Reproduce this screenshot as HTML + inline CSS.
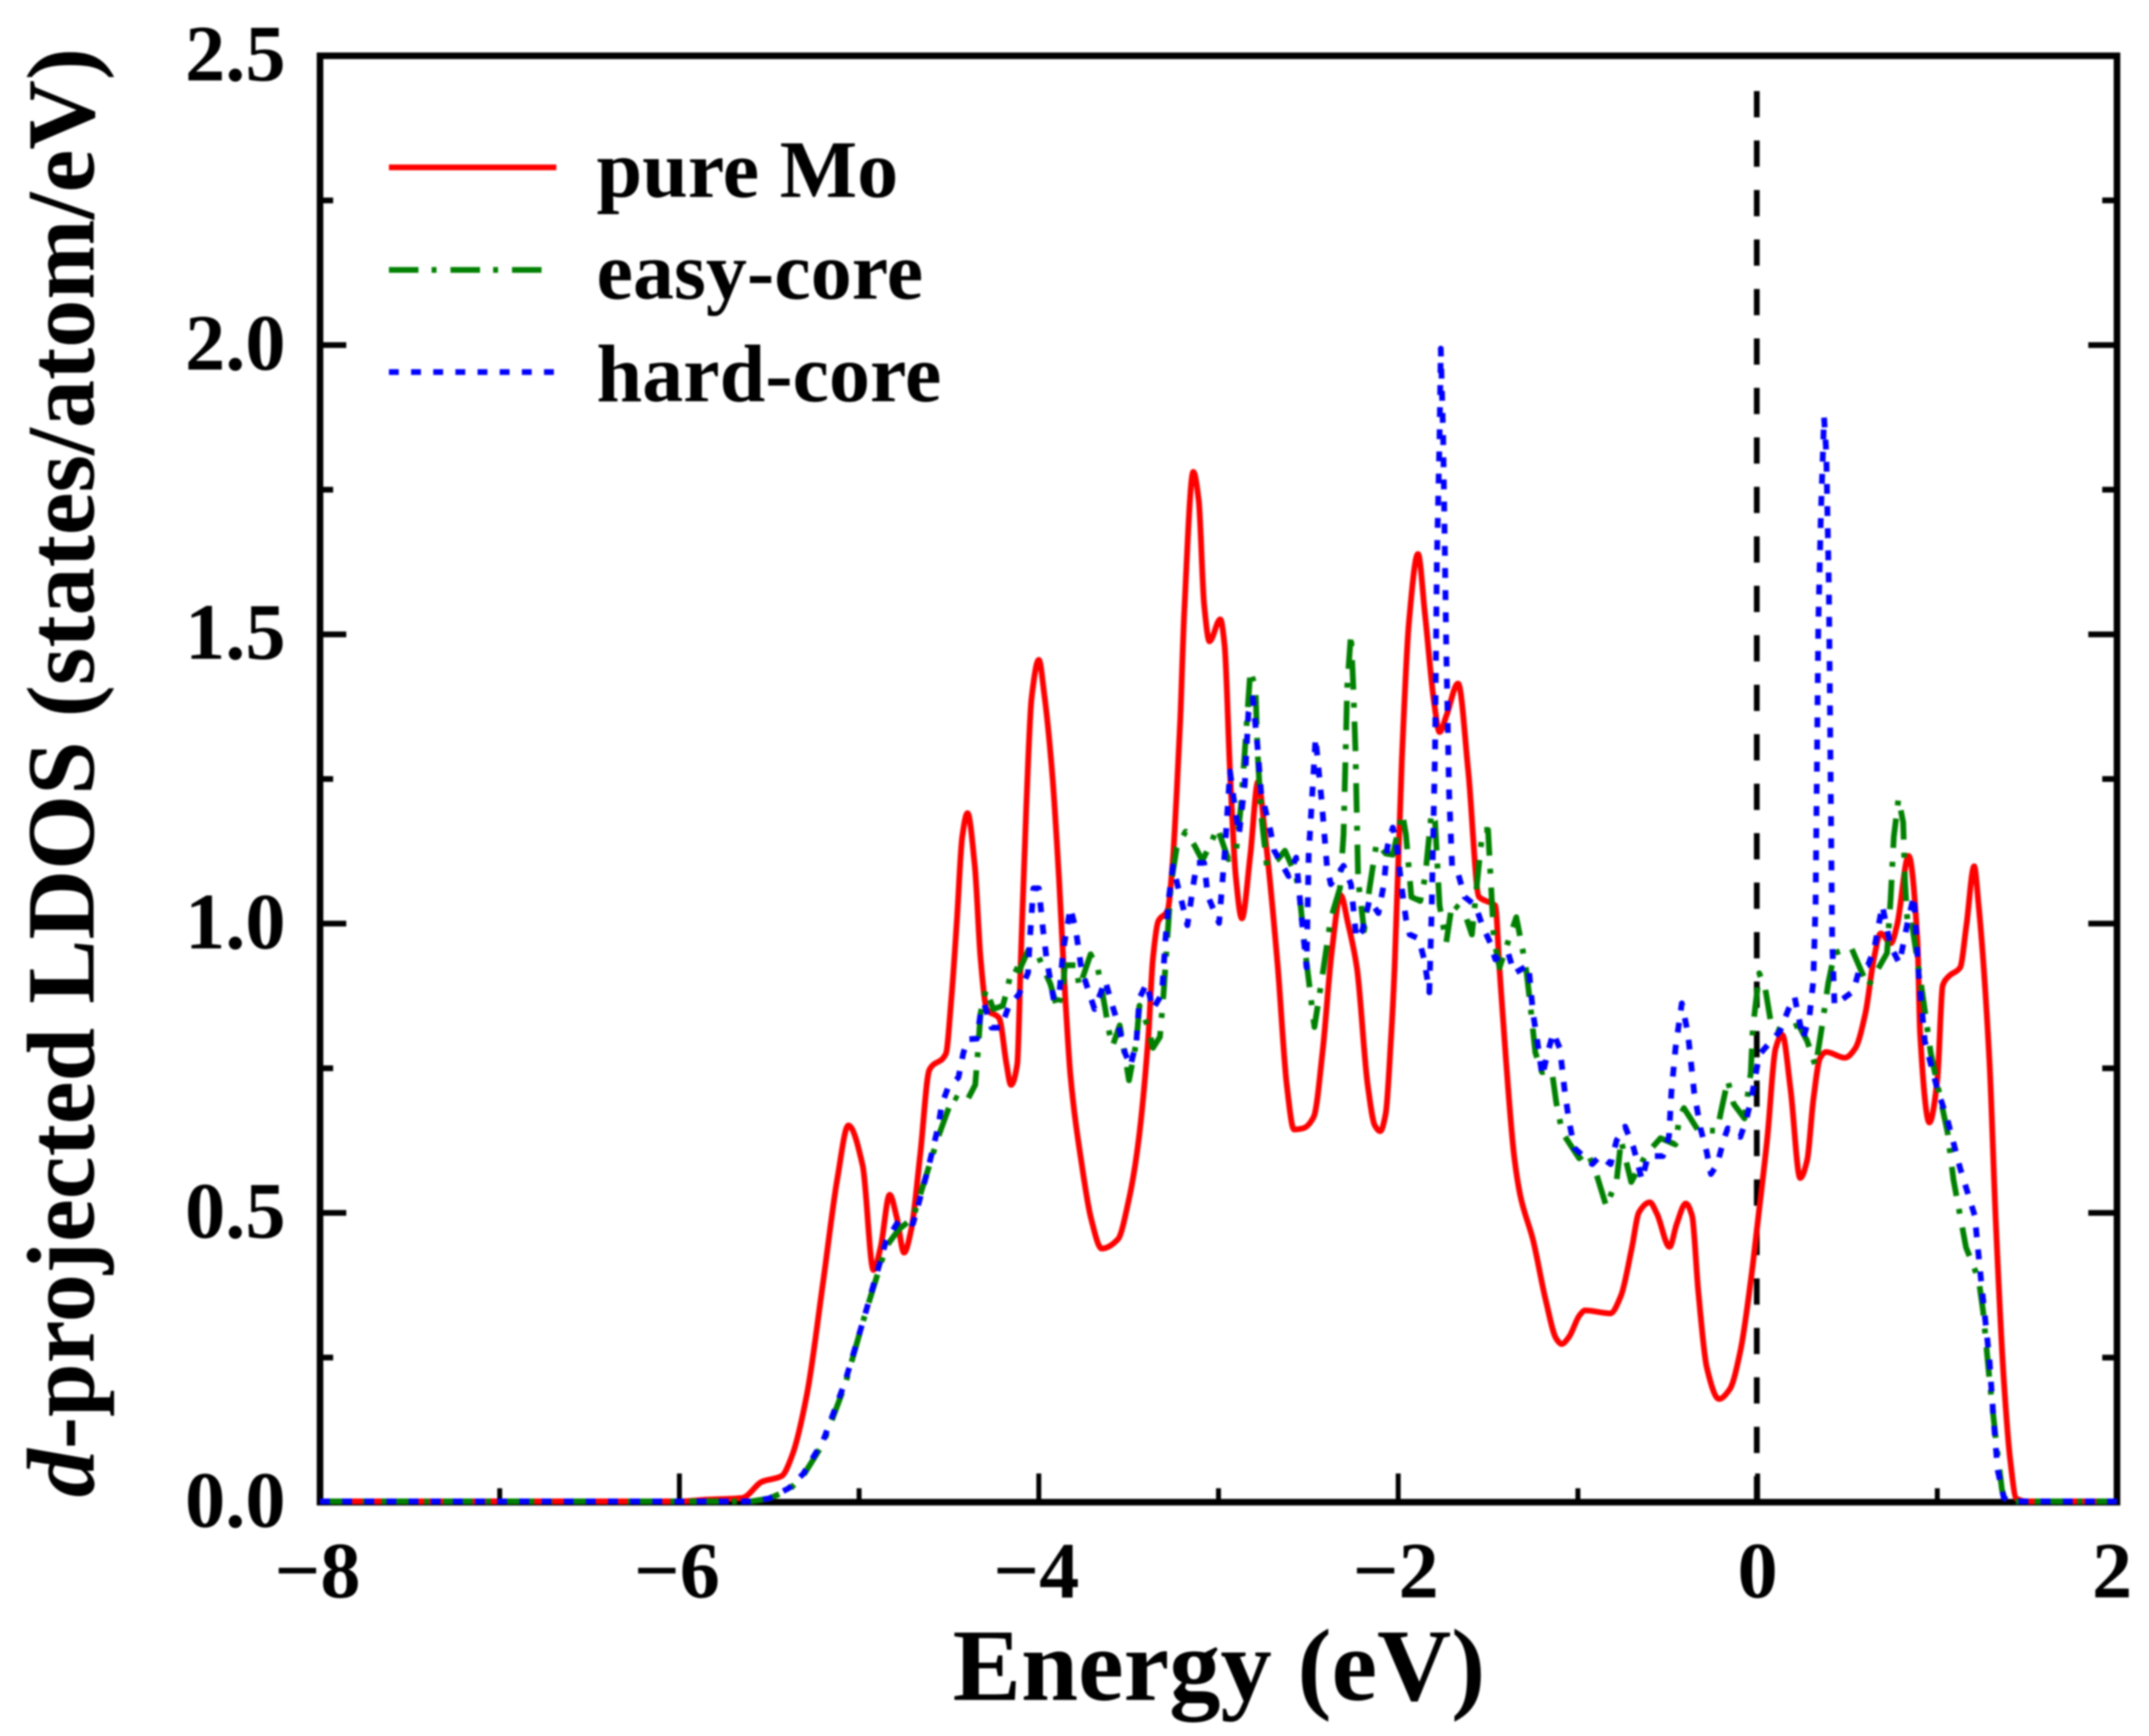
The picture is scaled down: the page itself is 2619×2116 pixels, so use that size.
<!DOCTYPE html>
<html lang="en">
<head>
<meta charset="utf-8">
<title>d-projected LDOS</title>
<style>
html,body{margin:0;padding:0;background:#fff;width:2619px;height:2116px;overflow:hidden}
svg{display:block;filter:blur(1px)}
text{font-family:"Liberation Serif","DejaVu Serif",serif;font-weight:bold;fill:#000}
</style>
</head>
<body>
<svg id="chart" xmlns="http://www.w3.org/2000/svg" width="2619" height="2116" viewBox="0 0 2619 2116">
  <rect x="0" y="0" width="2619" height="2116" fill="#fff"/>
  <g id="ticks"></g>
  <g id="tickLabels"></g>
  <line x1="2141" y1="111" x2="2141" y2="1831" stroke="#000" stroke-width="7" stroke-dasharray="32 28.3"/>
  <rect x="390" y="68" width="2190" height="1763" fill="none" stroke="#000" stroke-width="8"/>
  <g id="series"></g>
  <g>
    <line x1="474" y1="204" x2="678" y2="204" stroke="#ff0000" stroke-width="7"/>
    <text x="727" y="240" font-size="100">pure Mo</text>
    <line x1="474" y1="329" x2="662" y2="329" stroke="#008000" stroke-width="7" stroke-dasharray="36 16 6 17"/>
    <text x="727" y="364" font-size="100">easy-core</text>
    <line x1="474" y1="453.5" x2="678" y2="453.5" stroke="#0000ff" stroke-width="7" stroke-dasharray="12 15"/>
    <text x="727" y="489" font-size="100">hard-core</text>
  </g>
  <text x="1161" y="2072" font-size="125">Energy (eV)</text>
  <text transform="translate(114,1825) rotate(-90)" font-size="117.5"><tspan font-style="italic">d</tspan>-projected LDOS (states/atom/eV)</text>
</svg>
<script>
const xMajorTicks = [-8, -6, -4, -2, 0, 2];
const xMinorTicks = [-7, -5, -3, -1, 1];
const yMajorTicks = [0, 0.5, 1, 1.5, 2, 2.5];
const yMinorTicks = [0.25, 0.75, 1.25, 1.75, 2.25];
const xTickLabels = ['\u22128', '\u22126', '\u22124', '\u22122', '0', '2'];
const yTickLabels = ['0.0', '0.5', '1.0', '1.5', '2.0', '2.5'];

const pureMoEnergy = [
  -8,-6,-5.85,-5.65,-5.54,-5.43,-5.37,-5.29,-5.2,-5.12,-5.06,-4.98,-4.92,-4.88,-4.83,-4.79,-4.75,-4.71,-4.66,-4.609,
  -4.517,-4.488,-4.456,-4.426,-4.397,-4.356,-4.324,-4.29,-4.22,-4.18,-4.155,-4.12,-4.10,-4.07,-4.04,-4.0,-3.97,-3.925,-3.886,-3.854,
  -3.824,-3.76,-3.71,-3.65,-3.56,-3.5,-3.45,-3.39,-3.365,-3.335,-3.283,-3.254,-3.233,-3.213,-3.19,-3.14,-3.11,-3.08,-3.05,-2.99,
  -2.966,-2.936,-2.904,-2.87,-2.823,-2.78,-2.74,-2.67,-2.62,-2.58,-2.53,-2.47,-2.42,-2.37,-2.32,-2.28,-2.23,-2.17,-2.13,-2.10,
  -2.07,-2.04,-2.02,-1.98,-1.94,-1.89,-1.85,-1.8,-1.77,-1.73,-1.667,-1.61,-1.55,-1.48,-1.46,-1.436,-1.40,-1.355,-1.32,-1.25,
  -1.18,-1.12,-1.09,-1.05,-0.99,-0.96,-0.82,-0.76,-0.70,-0.66,-0.60,-0.56,-0.49,-0.45,-0.40,-0.365,-0.33,-0.283,-0.215,-0.155,
  -0.096,-0.037,0.01,0.055,0.10,0.137,0.183,0.237,0.276,0.31,0.347,0.381,0.486,0.543,0.60,0.648,0.685,0.742,0.776,0.84,
  0.89,0.904,0.956,1.0,1.03,1.068,1.127,1.162,1.205,1.23,1.29,1.325,1.37,1.405,1.44,1.5,2
];
const pureMoLdos = [
  0,0,0.003,0.006,0.034,0.044,0.082,0.186,0.38,0.56,0.65,0.58,0.40,0.44,0.53,0.49,0.43,0.47,0.6,0.746,
  0.774,0.864,1.003,1.149,1.19,1.098,0.939,0.851,0.835,0.756,0.72,0.756,0.939,1.199,1.389,1.455,1.396,1.257,1.067,0.877,
  0.737,0.58,0.49,0.437,0.453,0.52,0.611,0.806,0.939,1.003,1.022,1.11,1.224,1.351,1.541,1.78,1.73,1.55,1.487,1.525,
  1.48,1.262,1.081,1.008,1.118,1.244,1.15,0.923,0.72,0.643,0.645,0.665,0.78,0.95,1.048,1.0,0.923,0.72,0.65,0.64,
  0.67,0.8,0.923,1.28,1.52,1.638,1.53,1.38,1.33,1.36,1.414,1.262,1.045,1.034,1.03,0.92,0.762,0.597,0.528,0.452,
  0.349,0.281,0.272,0.284,0.322,0.33,0.325,0.356,0.438,0.50,0.517,0.497,0.44,0.48,0.515,0.494,0.363,0.232,0.177,0.194,
  0.26,0.384,0.508,0.631,0.783,0.807,0.713,0.559,0.59,0.694,0.766,0.777,0.767,0.783,0.844,0.94,0.982,0.965,0.996,1.116,
  0.966,0.81,0.655,0.728,0.892,0.909,0.923,0.996,1.098,1.03,0.762,0.486,0.211,0.074,0.005,0,0
];

const easyCoreEnergy = [
  -8,-5.6,-5.5,-5.39,-5.31,-5.2,-5.08,-4.97,-4.85,-4.78,-4.7,-4.62,-4.56,-4.517,-4.477,-4.406,-4.354,-4.338,-4.324,-4.293,
  -4.253,-4.20,-4.175,-4.15,-4.11,-4.06,-4.01,-3.977,-3.936,-3.896,-3.865,-3.855,-3.795,-3.774,-3.712,-3.671,-3.63,-3.612,-3.59,-3.55,
  -3.52,-3.498,-3.457,-3.44,-3.39,-3.365,-3.326,-3.306,-3.285,-3.265,-3.233,-3.183,-3.132,-3.09,-3.04,-3.007,-2.945,-2.904,-2.875,-2.845,
  -2.823,-2.794,-2.783,-2.763,-2.73,-2.67,-2.63,-2.568,-2.548,-2.518,-2.466,-2.415,-2.375,-2.324,-2.304,-2.294,-2.284,-2.263,-2.25,-2.238,
  -2.223,-2.19,-2.16,-2.12,-2.07,-2.03,-1.977,-1.957,-1.927,-1.877,-1.85,-1.815,-1.795,-1.77,-1.733,-1.70,-1.63,-1.59,-1.55,-1.53,
  -1.50,-1.48,-1.468,-1.436,-1.343,-1.308,-1.285,-1.26,-1.237,-1.20,-1.145,-1.12,-1.087,-0.993,-0.947,-0.90,-0.842,-0.784,-0.76,-0.703,
  -0.62,-0.54,-0.457,-0.434,-0.41,-0.33,-0.224,-0.205,-0.166,-0.133,-0.073,-0.038,-0.027,0.009,0.043,0.078,0.137,0.228,0.276,0.323,
  0.356,0.393,0.428,0.52,0.614,0.72,0.74,0.758,0.784,0.81,0.82,0.836,0.86,0.917,0.963,1.01,1.057,1.09,1.16,1.23,
  1.255,1.29,1.325,1.36,1.38,2
];
const easyCoreLdos = [
  0,0,0.005,0.02,0.045,0.10,0.2,0.32,0.44,0.47,0.49,0.57,0.63,0.667,0.70,0.689,0.72,0.781,0.844,0.886,
  0.851,0.857,0.886,0.923,0.917,0.952,0.949,0.923,0.895,0.851,0.889,0.927,0.927,0.889,0.946,0.92,0.851,0.816,0.787,0.823,
  0.77,0.728,0.794,0.857,0.819,0.784,0.803,0.877,0.972,1.066,1.13,1.158,1.133,1.108,1.139,1.165,1.11,1.118,1.203,1.335,
  1.436,1.407,1.298,1.19,1.096,1.11,1.125,1.081,1.045,0.952,0.82,0.923,1.008,1.06,1.153,1.277,1.407,1.50,1.407,1.298,
  1.074,0.987,1.06,1.139,1.12,1.118,1.19,1.153,1.045,1.038,1.08,1.19,1.176,1.03,0.966,1.034,1.017,0.98,1.103,1.161,
  1.161,1.045,0.973,0.923,1.01,0.955,0.913,0.844,0.776,0.742,0.745,0.689,0.638,0.593,0.604,0.569,0.51,0.556,0.624,0.552,
  0.60,0.628,0.617,0.666,0.68,0.641,0.641,0.672,0.728,0.687,0.662,0.741,0.817,0.913,0.886,0.82,0.813,0.824,0.796,0.752,
  0.817,0.896,0.948,0.958,0.89,0.948,1.041,1.149,1.215,1.174,1.072,0.99,0.996,0.879,0.776,0.707,0.638,0.556,0.439,0.384,
  0.329,0.212,0.109,0.02,0,0
];

const hardCoreEnergy = [
  -8,-5.6,-5.5,-5.39,-5.31,-5.2,-5.08,-4.97,-4.85,-4.78,-4.7,-4.62,-4.56,-4.54,-4.507,-4.447,-4.42,-4.395,-4.344,-4.324,
  -4.304,-4.263,-4.21,-4.17,-4.11,-4.06,-4.05,-4.03,-4.0,-3.977,-3.957,-3.917,-3.886,-3.865,-3.824,-3.795,-3.763,-3.69,-3.63,-3.60,
  -3.56,-3.52,-3.49,-3.457,-3.44,-3.40,-3.365,-3.315,-3.295,-3.275,-3.254,-3.213,-3.173,-3.14,-3.12,-3.08,-3.06,-2.997,-2.966,-2.936,
  -2.904,-2.886,-2.854,-2.834,-2.809,-2.783,-2.763,-2.712,-2.69,-2.61,-2.568,-2.54,-2.51,-2.498,-2.46,-2.426,-2.396,-2.375,-2.304,-2.263,
  -2.233,-2.20,-2.16,-2.11,-2.08,-2.06,-2.03,-2.01,-1.98,-1.957,-1.936,-1.886,-1.855,-1.827,-1.815,-1.795,-1.785,-1.77,-1.763,-1.75,
  -1.733,-1.717,-1.70,-1.67,-1.63,-1.57,-1.53,-1.488,-1.46,-1.39,-1.354,-1.275,-1.25,-1.226,-1.198,-1.168,-1.137,-1.10,-1.075,-1.05,
  -1.02,-0.92,-0.877,-0.818,-0.785,-0.737,-0.69,-0.644,-0.61,-0.527,-0.493,-0.48,-0.457,-0.422,-0.388,-0.353,-0.318,-0.283,-0.26,-0.224,
  -0.19,-0.166,-0.096,-0.061,-0.033,0.009,0.067,0.125,0.172,0.206,0.253,0.288,0.31,0.323,0.338,0.352,0.37,0.382,0.397,0.406,
  0.415,0.428,0.533,0.566,0.614,0.648,0.694,0.74,0.789,0.836,0.87,0.894,0.93,1.0,1.057,1.127,1.208,1.243,1.29,1.313,
  1.336,1.37,1.4,2
];
const hardCoreLdos = [
  0,0,0.005,0.023,0.048,0.105,0.205,0.32,0.45,0.485,0.48,0.57,0.648,0.686,0.714,0.733,0.775,0.799,0.80,0.844,
  0.86,0.819,0.819,0.854,0.877,0.914,0.972,1.06,1.06,0.99,0.939,0.867,0.877,0.952,1.026,0.99,0.92,0.851,0.90,0.867,
  0.826,0.775,0.753,0.794,0.87,0.895,0.851,0.877,0.972,1.047,1.098,1.047,0.996,1.066,1.104,1.104,1.047,1.0,1.118,1.262,
  1.19,1.153,1.24,1.363,1.389,1.306,1.226,1.161,1.125,1.081,1.113,1.017,0.923,1.118,1.32,1.211,1.096,1.067,1.099,1.067,
  0.973,0.987,1.04,1.017,1.067,1.132,1.165,1.139,1.06,1.008,0.98,0.973,0.936,0.88,1.008,1.298,1.624,1.84,1.993,1.84,
  1.48,1.226,1.096,1.089,1.045,1.03,0.994,0.966,0.937,0.95,0.913,0.927,0.844,0.796,0.735,0.776,0.81,0.783,0.713,0.659,
  0.611,0.583,0.597,0.583,0.624,0.648,0.611,0.556,0.597,0.597,0.631,0.707,0.783,0.861,0.81,0.707,0.645,0.604,0.566,0.583,
  0.624,0.645,0.63,0.662,0.70,0.772,0.793,0.813,0.851,0.872,0.80,0.837,0.90,1.037,1.516,1.705,1.874,1.813,1.578,1.262,
  0.968,0.858,0.882,0.92,0.927,0.954,1.03,0.96,0.93,1.003,1.047,0.92,0.796,0.713,0.659,0.576,0.494,0.384,0.246,0.143,
  0.054,0.006,0,0
];

const svgNS = 'http://www.w3.org/2000/svg';
function xScale(energy) { return 390 + (energy + 8) * 219; }
function yScale(value) { return 1830 - value * 705; }
function yAxisPos(value) { return 1831 - value * 705.2; }

function straightPath(xs, ys) {
  let d = '';
  for (let i = 0; i < xs.length; i++) {
    d += (i ? 'L' : 'M') + xScale(xs[i]).toFixed(1) + ' ' + yScale(ys[i]).toFixed(1);
  }
  return d;
}

function smoothPath(xs, ys) {
  const px = xs.map(xScale);
  const py = ys.map(yScale);
  const n = px.length;
  const slope = [];
  for (let i = 0; i < n - 1; i++) slope.push((py[i + 1] - py[i]) / (px[i + 1] - px[i]));
  const m = [slope[0]];
  for (let i = 1; i < n - 1; i++) {
    if (slope[i - 1] * slope[i] <= 0) m.push(0);
    else {
      const h0 = px[i] - px[i - 1];
      const h1 = px[i + 1] - px[i];
      m.push(3 * (h0 + h1) / ((2 * h1 + h0) / slope[i - 1] + (h1 + 2 * h0) / slope[i]));
    }
  }
  m.push(slope[n - 2]);
  let d = 'M' + px[0].toFixed(1) + ' ' + py[0].toFixed(1);
  for (let i = 0; i < n - 1; i++) {
    const h = (px[i + 1] - px[i]) / 3;
    d += 'C' + (px[i] + h).toFixed(1) + ' ' + (py[i] + m[i] * h).toFixed(1) + ' ' +
         (px[i + 1] - h).toFixed(1) + ' ' + (py[i + 1] - m[i + 1] * h).toFixed(1) + ' ' +
         px[i + 1].toFixed(1) + ' ' + py[i + 1].toFixed(1);
  }
  return d;
}

function addTick(x1, y1, x2, y2, w, name) {
  const t = document.createElementNS(svgNS, 'line');
  t.setAttribute('x1', x1);
  t.setAttribute('y1', y1);
  t.setAttribute('x2', x2);
  t.setAttribute('y2', y2);
  t.setAttribute('stroke', '#000');
  t.setAttribute('stroke-width', w);
  
  
  document.getElementById('ticks').appendChild(t);
}

function addLabel(x, y, str, anchor, name) {
  const t = document.createElementNS(svgNS, 'text');
  t.setAttribute('x', x);
  t.setAttribute('y', y);
  t.setAttribute('font-size', '98');
  t.setAttribute('text-anchor', anchor);
  t.textContent = str;
  
  
  document.getElementById('tickLabels').appendChild(t);
}

xMajorTicks.forEach(function (v, i) {
  const x = xScale(v);
  addTick(x, 1831, x, 1796, 6, 'x-major-tick');
  const shift = xTickLabels[i].length > 1 ? -3 : (v === 2 ? -6 : 0);
  addLabel(x + shift, 1947, xTickLabels[i], 'middle', 'x-tick-label');
});
xMinorTicks.forEach(function (v) {
  const x = xScale(v);
  addTick(x, 1831, x, 1814, 6, 'x-minor-tick');
});
yMajorTicks.forEach(function (v, i) {
  const y = yAxisPos(v);
  addTick(390, y, 422, y, 7, 'y-major-tick-left');
  addTick(2580, y, 2545, y, 7, 'y-major-tick-right');
  addLabel(348, y + 30, yTickLabels[i], 'end', 'y-tick-label');
});
yMinorTicks.forEach(function (v) {
  const y = yAxisPos(v);
  addTick(390, y, 406, y, 7, 'y-minor-tick-left');
  addTick(2580, y, 2562, y, 7, 'y-minor-tick-right');
});

function addSeries(d, color, dash, name) {
  const p = document.createElementNS(svgNS, 'path');
  p.setAttribute('d', d);
  p.setAttribute('fill', 'none');
  p.setAttribute('stroke', color);
  p.setAttribute('stroke-width', '7');
  p.setAttribute('stroke-linejoin', 'round');
  if (dash) p.setAttribute('stroke-dasharray', dash);
  
  
  document.getElementById('series').appendChild(p);
}

addSeries(smoothPath(pureMoEnergy, pureMoLdos), '#ff0000', '', 'series-pure-mo');
addSeries(straightPath(easyCoreEnergy, easyCoreLdos), '#008000', '36 16 6 17', 'series-easy-core');
addSeries(straightPath(hardCoreEnergy, hardCoreLdos), '#0000ff', '12 15', 'series-hard-core');
</script>
</body>
</html>
